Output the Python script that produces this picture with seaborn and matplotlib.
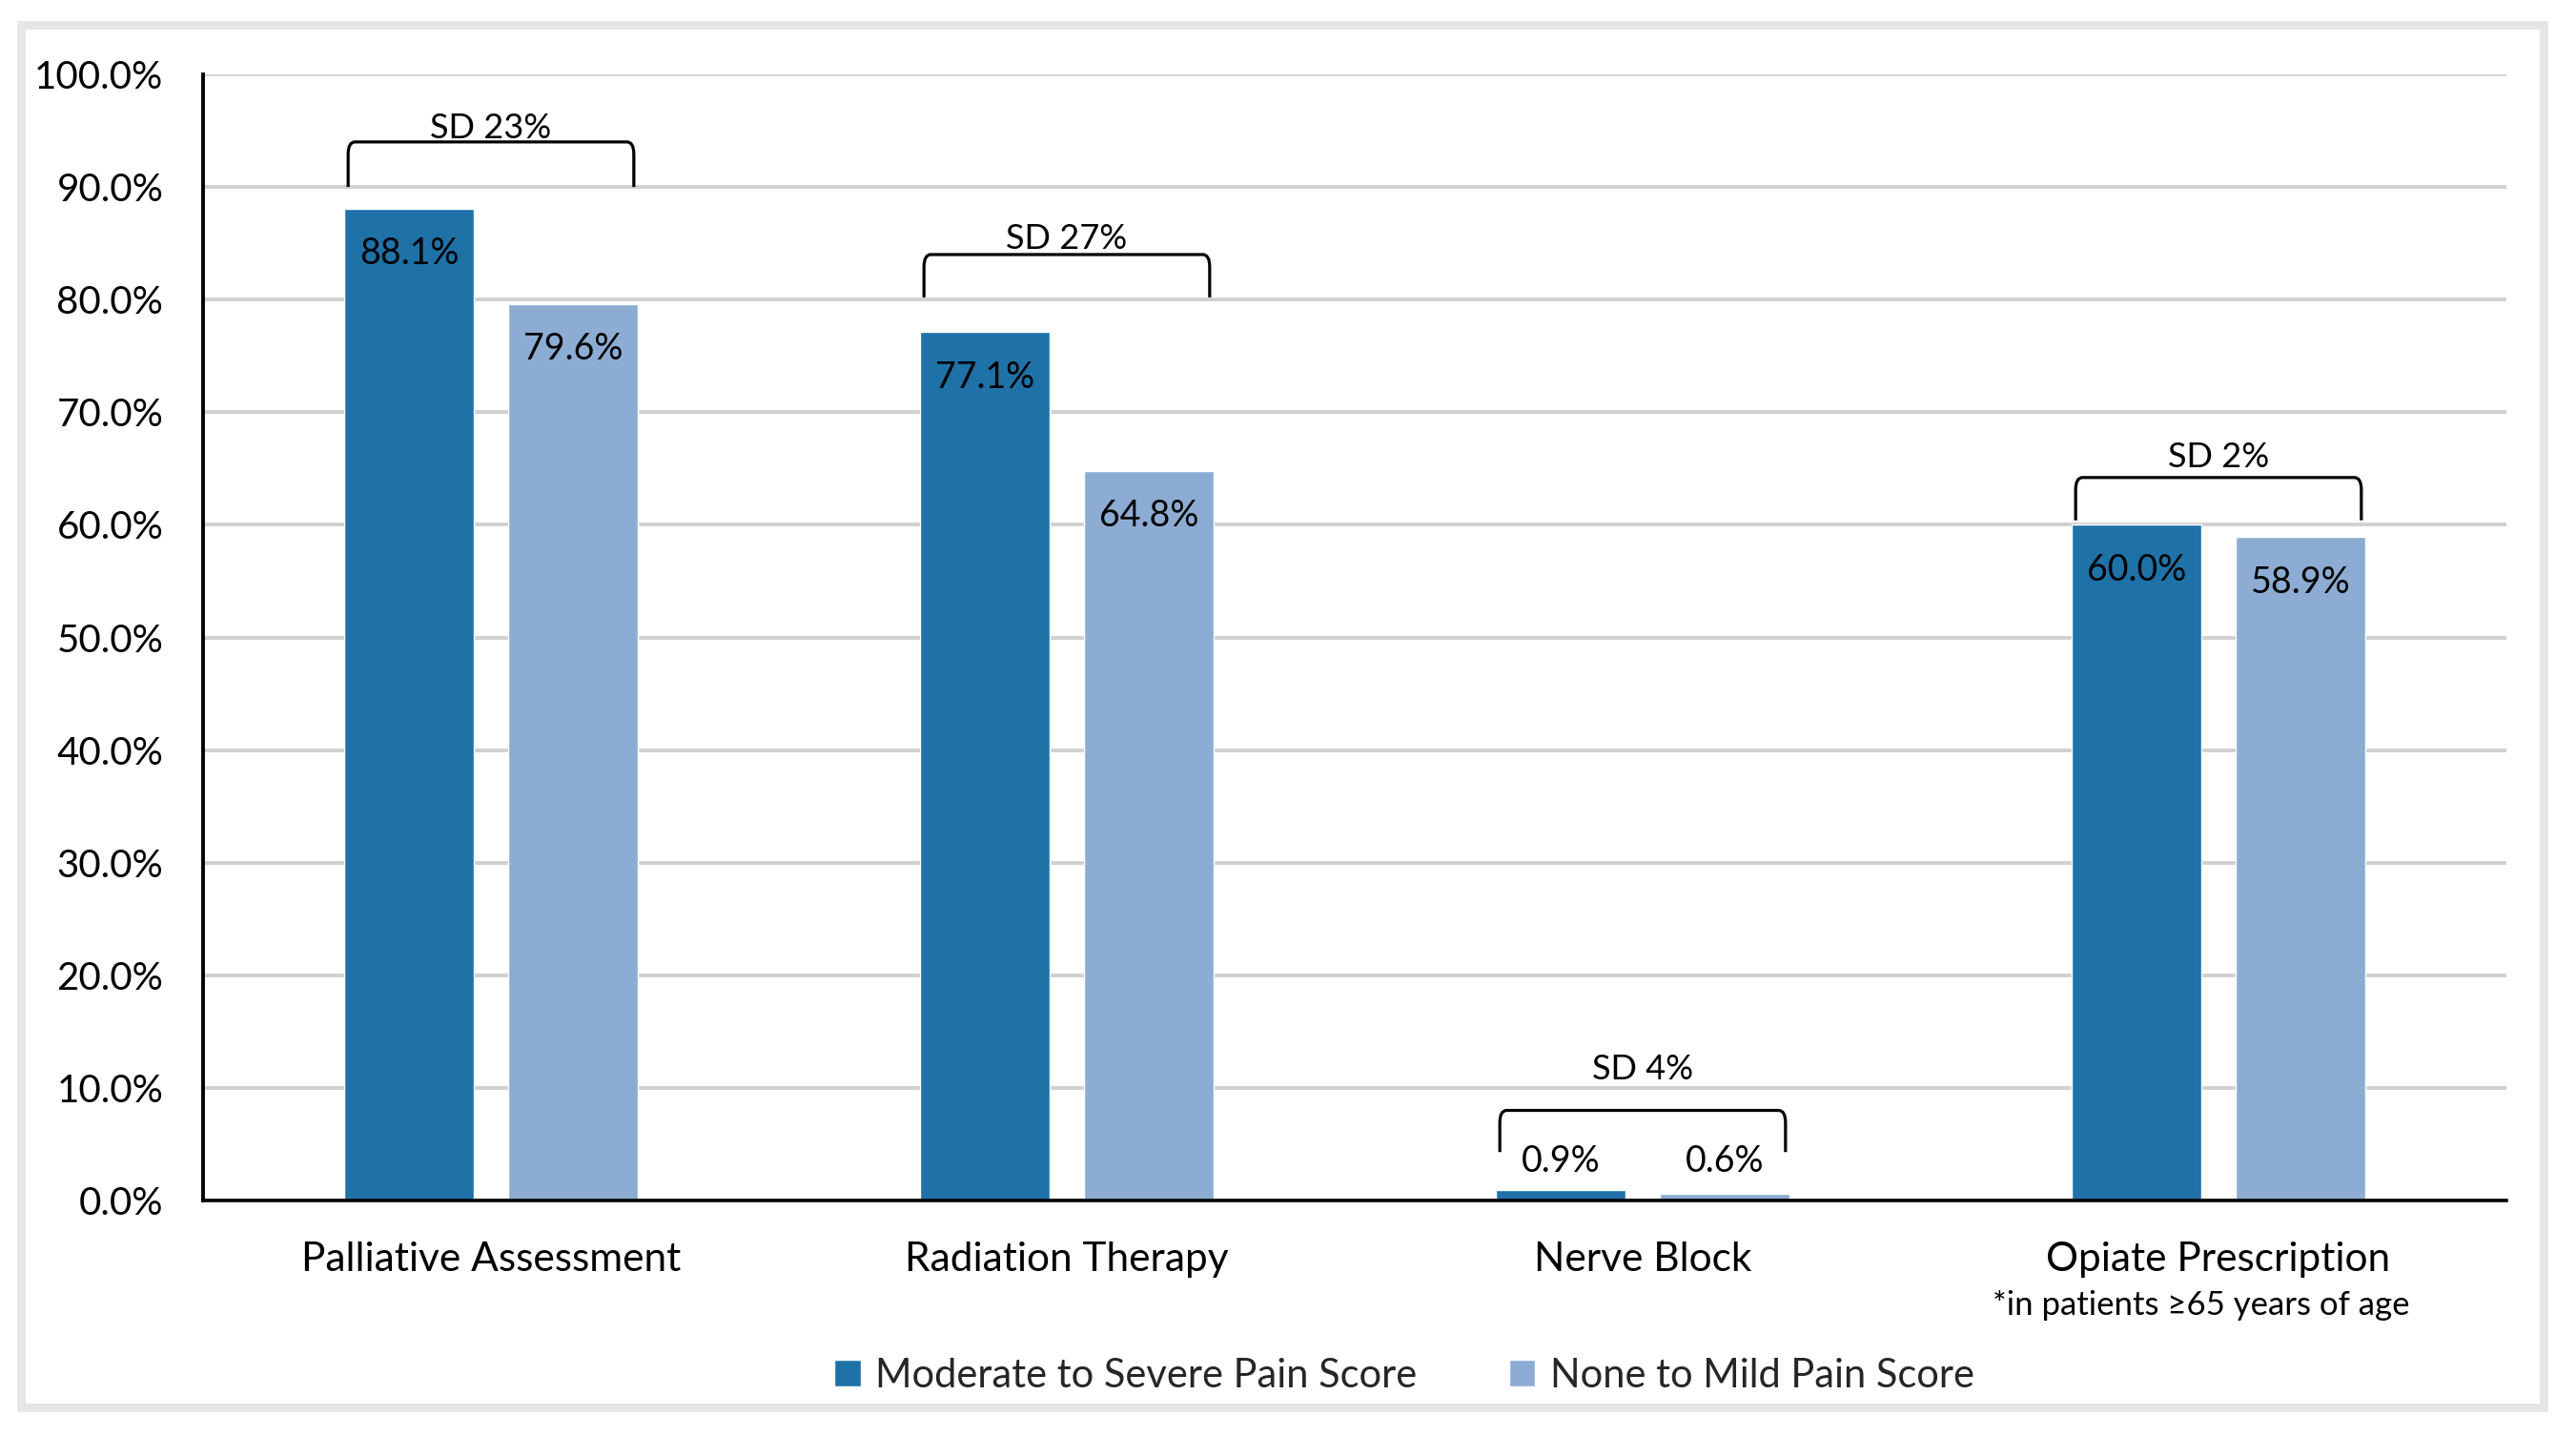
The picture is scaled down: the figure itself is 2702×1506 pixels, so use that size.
import matplotlib
matplotlib.use("Agg")
import matplotlib.pyplot as plt
import seaborn as sns
import pandas as pd
from matplotlib.patches import Rectangle, PathPatch
from matplotlib.path import Path
from matplotlib.transforms import blended_transform_factory

# ---- data ----
categories = ["Palliative Assessment", "Radiation Therapy", "Nerve Block", "Opiate Prescription"]
series = ["Moderate to Severe Pain Score", "None to Mild Pain Score"]
moderate_severe = [88.1, 77.1, 0.9, 60.0]
none_mild = [79.6, 64.8, 0.6, 58.9]
sd_labels = ["SD 23%", "SD 27%", "SD 4%", "SD 2%"]
sd_bracket_top = [94.0, 84.0, 8.0, 64.2]
sd_bracket_leg = [90.0, 80.2, 4.3, 60.4]
sd_label_y = [95.5, 85.7, 11.9, 66.3]
subtitle = "*in patients \u226565 years of age"
y_ticks = [0, 10, 20, 30, 40, 50, 60, 70, 80, 90, 100]
colors = ["#1F72A8", "#8CACD3"]

df = pd.DataFrame({
    "category": categories * 2,
    "series": [series[0]] * 4 + [series[1]] * 4,
    "value": moderate_severe + none_mild,
})

sns.set_theme(style="white")
plt.rcParams["font.family"] = ["Lato", "DejaVu Sans"]

W, H = 2702, 1506
fig = plt.figure(figsize=(W / 100, H / 100), dpi=100)
ax = fig.add_axes([213 / W, 1 - 1259 / H, (2629 - 213) / W, (1259 - 78) / H])

sns.barplot(data=df, x="category", y="value", hue="series", order=categories,
            hue_order=series, palette=colors, width=0.57, gap=0.21,
            saturation=1, ax=ax, zorder=3)

ax.set_xlim(-0.5, 3.5)
ax.set_ylim(0, 100)
ax.set_yticks(y_ticks)
ax.set_yticklabels([f"{t:.1f}%" for t in y_ticks])
ax.set_xlabel("")
ax.set_ylabel("")
ax.yaxis.grid(True, color="#D0D0D0", linewidth=2.8, zorder=0)
ax.set_axisbelow(True)
for s in ["top", "right"]:
    ax.spines[s].set_visible(False)
ax.spines["left"].set_color("black")
ax.spines["left"].set_linewidth(2.8)
ax.spines["bottom"].set_color("black")
ax.spines["bottom"].set_linewidth(2.6)
ax.spines["bottom"].set_zorder(5)
ax.tick_params(axis="y", length=0, pad=30, labelsize=29, labelcolor="black")
ax.tick_params(axis="x", length=0, pad=31, labelsize=30.5, labelcolor="black")

# value labels
for cont in ax.containers:
    for bar in cont:
        v = bar.get_height()
        xc = bar.get_x() + bar.get_width() / 2
        if v > 8:
            ax.annotate(f"{v:.1f}%", (xc, v), xytext=(0, -34), textcoords="offset points",
                        ha="center", va="center", fontsize=27, color="black", zorder=6)
        else:
            ax.annotate(f"{v:.1f}%", (xc, 0.9), xytext=(0, 22), textcoords="offset points",
                        ha="center", va="center", fontsize=27, color="black", zorder=6)

# SD brackets
c0 = list(ax.containers[0])
c1 = list(ax.containers[1])
inset = 0.007
dx, dy = 0.012, 1.1
for i in range(len(categories)):
    xl = c0[i].get_x() + inset
    xr = c1[i].get_x() + c1[i].get_width() - inset
    top = sd_bracket_top[i]
    leg = sd_bracket_leg[i]
    verts = [(xl, leg), (xl, top - dy), (xl, top), (xl + dx, top),
             (xr - dx, top), (xr, top), (xr, top - dy), (xr, leg)]
    codes = [Path.MOVETO, Path.LINETO, Path.CURVE3, Path.CURVE3,
             Path.LINETO, Path.CURVE3, Path.CURVE3, Path.LINETO]
    ax.add_patch(PathPatch(Path(verts, codes), fill=False, edgecolor="black",
                           linewidth=2.3, zorder=6, clip_on=False))
    ax.annotate(sd_labels[i], ((xl + xr) / 2, sd_label_y[i]), xytext=(0, -10),
                textcoords="offset points", ha="center", va="baseline",
                fontsize=26, color="black", zorder=6)

# subtitle under last category
trans = blended_transform_factory(ax.transData, ax.transAxes)
ax.annotate(subtitle, (3 - 0.03, 0), xycoords=trans, xytext=(0, -79), textcoords="offset points",
            ha="center", va="center", fontsize=25, color="black")

# legend
leg = ax.legend(loc="center", bbox_to_anchor=(1473 / W, 1 - 1443 / H),
                bbox_transform=fig.transFigure, ncol=2, frameon=False, fontsize=30,
                handlelength=0.66, handleheight=0.66, handletextpad=0.38,
                columnspacing=2.3, borderaxespad=0)

# outer border
fig.patches.append(Rectangle((21.5 / W, 1 - 1476 / H), (2668 - 21.5) / W, (1476 - 26) / H,
                             transform=fig.transFigure, fill=False, edgecolor="#E6E6E6",
                             linewidth=6.5, zorder=0))

fig.savefig("out.png", dpi=100, facecolor="white")
